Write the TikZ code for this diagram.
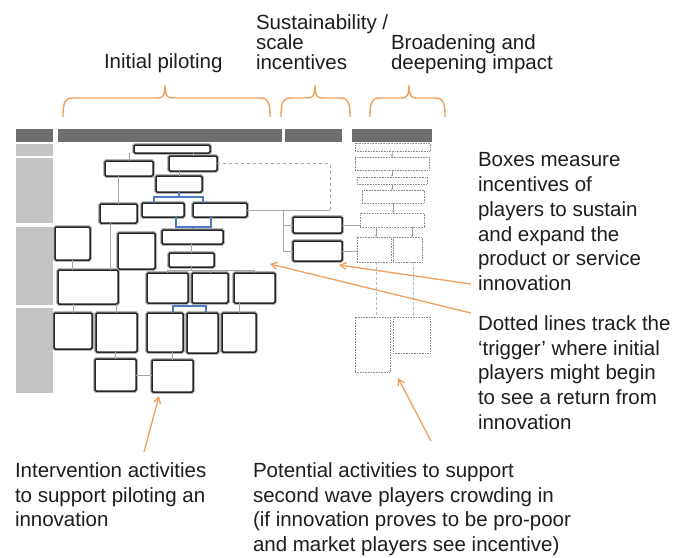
\documentclass[tikz,border=0pt]{standalone}
\usepackage{fontspec}
\setmainfont{Liberation Sans}
\usetikzlibrary{arrows.meta,calc}
\definecolor{orng}{HTML}{EF9F5E}
\definecolor{hdr}{HTML}{6E6E6E}
\definecolor{rowl}{HTML}{C4C4C4}
\definecolor{blu}{HTML}{5079C8}
\definecolor{txt}{HTML}{1E1E1E}
\definecolor{dln}{HTML}{B4BED2}
\newcommand\mkbox[6]{\pgfmathsetmacro\mkbW{#4-#2}\pgfmathsetmacro\mkbH{#5-#3}%
  \node[#6,minimum width=\mkbW pt,minimum height=\mkbH pt] (#1) at ({(#2+#4)/2},{(#3+#5)/2}) {};}
\newcommand\obrace[3]{%
  \draw[brc] (#1,117) .. controls (#1,102) and (#1+2,98) .. (#1+10,98) -- (#2-7,98)
    .. controls (#2-2,98) and (#2,95) .. (#2,85) .. controls (#2,95) and (#2+2,98) .. (#2+7,98)
    -- (#3-10,98) .. controls (#3-2,98) and (#3,102) .. (#3,117);}
\begin{document}
\begin{tikzpicture}[x=1pt,y=-1pt,
  bx/.style={draw=black!85,line width=1.5pt,rounded corners=1.2pt,fill=white,
     preaction={draw=black!28,line width=3.6pt},inner sep=0pt,outer sep=0pt},
  dbx/.style={draw=black!45,densely dotted,line width=0.6pt,fill=white,inner sep=0pt,outer sep=0pt},
  hbar/.style={fill=hdr,draw=none,inner sep=0pt,outer sep=0pt},
  rbar/.style={fill=rowl,draw=none,inner sep=0pt,outer sep=0pt},
  cn/.style={draw=black!35,line width=0.6pt},
  cnd/.style={draw=black!35,line width=0.6pt,dashed},
  dv/.style={draw=dln,line width=0.7pt,densely dashed},
  bl/.style={draw=blu,line width=1.1pt},
  sarr/.style={draw=black!40,line width=0.5pt,-{Straight Barb[length=2pt,width=2.5pt]}},
  brc/.style={draw=orng,line width=1.4pt},
  oa/.style={draw=orng,line width=1.3pt,-{Straight Barb[length=6pt,width=7pt]}},
  lbl/.style={anchor=north west,inner sep=0pt,outer sep=0pt,align=left,text=txt,
     font=\fontsize{20.5}{24.8}\selectfont},
  toplbl/.style={lbl,font=\fontsize{20.5}{20}\selectfont}]
\useasboundingbox[fill=white] (0,0) rectangle (680,557);

% top labels
\node[toplbl] (tinit) at (104,54) {Initial piloting};
\node[toplbl] (tsust) at (256,14.5) {Sustainability /\\scale\\incentives};
\node[toplbl] (tbroad) at (391,34.5) {Broadening and\\deepening impact};

% braces
\obrace{63}{165}{270}
\obrace{281}{315}{350}
\obrace{370}{409}{445}

% header bars
\mkbox{h0}{16}{129}{53}{142}{hbar}
\mkbox{h1}{58}{129}{282}{142}{hbar}
\mkbox{h2}{285}{129}{342}{142}{hbar}
\mkbox{h3}{352}{129}{432}{142}{hbar}
% row labels
\mkbox{r1}{16}{144}{53}{156}{rbar}
\mkbox{r2}{16}{158}{53}{223}{rbar}
\mkbox{r3}{16}{227}{53}{305}{rbar}
\mkbox{r4}{16}{308}{53}{393}{rbar}

% trigger / sustainability connectors (behind boxes)
\coordinate (t1) at (330,163.5);
\coordinate (t2) at (330,210);
\coordinate (j4) at (283,210);

% main boxes
\mkbox{b1}{134}{145}{210}{153}{bx}
\mkbox{b2}{105}{161}{153}{176}{bx}
\mkbox{b3}{169}{156}{217}{171}{bx}
\mkbox{b4}{156}{176}{202}{192}{bx}
\mkbox{b5}{142}{203}{184}{217}{bx}
\mkbox{b6}{193}{203}{247}{217}{bx}
\mkbox{b7}{100}{204}{137}{223}{bx}
\mkbox{b8}{162}{230}{223}{244}{bx}
\mkbox{b9}{55}{227}{90}{260}{bx}
\mkbox{b10}{118}{233}{155}{269}{bx}
\mkbox{b11}{169}{253}{214}{267}{bx}
\mkbox{b12}{58}{270}{118}{304}{bx}
\mkbox{b13}{147}{273}{188}{303}{bx}
\mkbox{b14}{192}{273}{228}{303}{bx}
\mkbox{b15}{234}{273}{275}{303}{bx}
\mkbox{b16}{54}{313}{92}{349}{bx}
\mkbox{b17}{96}{313}{137}{352}{bx}
\mkbox{b18}{147}{313}{183}{352}{bx}
\mkbox{b19}{187}{313}{218}{353}{bx}
\mkbox{b20}{222}{313}{256}{352}{bx}
\mkbox{b21}{95}{359}{136}{391}{bx}
\mkbox{b22}{152}{360}{193}{392}{bx}
% sustainability boxes
\mkbox{s1}{293}{217}{342}{233}{bx}
\mkbox{s2}{293}{241}{342}{261}{bx}
% broadening boxes
\mkbox{d1}{355}{143}{430}{151}{dbx}
\mkbox{d2}{355}{157}{429}{170}{dbx}
\mkbox{d3}{357}{177}{427}{184}{dbx}
\mkbox{d4}{362}{190}{424}{203}{dbx}
\mkbox{d5}{360}{213}{424}{227}{dbx}
\mkbox{d6}{357}{237}{391}{262}{dbx}
\mkbox{d7}{393}{237}{422}{262}{dbx}
\mkbox{d8}{355}{317}{390}{372}{dbx}
\mkbox{d9}{393}{317}{430}{353}{dbx}

% main connectors
\draw[cn] (b2.north) -- (b2.north |- b1.south);
\draw[cn] (b3.north) -- (b3.north |- b1.south);
\draw[cn] (b4.north) -- (b4.north |- b3.south);
\draw[cn] (b7.north) -- (b7.north |- b2.south);
\draw[bl] (b4.south) -- ++(0,5);
\draw[bl] ([xshift=12pt]b5.north west) -- ++(0,-6) -| ([xshift=10pt]b6.north west);
\draw[bl] ([xshift=-8pt]b5.south east) -- ++(0,10) -| ([xshift=-36pt]b6.south east);
\draw[bl] (b8.north) -- ++(0,-3);
\draw[cn] (b11.north) -- (b11.north |- b8.south);
\draw[cn] (b11.south) -- ++(0,3);
\draw[cn] (b13.north) -- ++(0,-3) -| (b15.north);
\draw[cn] (b14.north) -- ++(0,-3);
\draw[bl] ([xshift=-10pt]b18.north east) -- ++(0,-7) -| ([xshift=19pt]b19.north west);
\draw[cn] (b20.north) -- (b20.north |- b15.south);
\draw[cn] (b9.south) -- (b9.south |- b12.north);
\draw[cn] ([xshift=-8.5pt]b7.south) -- ([xshift=-8.5pt]b7.south |- b12.north);
\draw[cn] (b16.north) -- (b16.north |- b12.south);
\draw[cn] (b17.north) -- (b17.north |- b12.south);
\draw[cn] (b21.north) -- (b21.north |- b17.south);
\draw[cn] (b22.north) -- (b22.north |- b18.south);
\draw[cn] (b21.east) -- (b21.east -| b22.west);
% trigger and sustainability connectors
\draw[cnd] (b3.east) -- (t1) -- (t2);
\draw[cn] (b6.east) -- (t2);
\draw[cn] (j4) |- (s1.west);
\draw[cn] (j4) |- (s2.west);
\draw[cn] (s1.east) -- (s1.east -| d5.west);
\draw[cn] (s2.east) -- (s2.east -| d6.west);
% broadening connectors
\draw[sarr] (d1.south) -- (d2.north);
\draw[sarr] (d2.south) -- (d2.south |- d3.north);
\draw[sarr] (d3.south) -- (d3.south |- d4.north);
\draw[sarr] (d4.south) -- (d4.south |- d5.north);
\draw[sarr] ([xshift=-16pt]d5.south) -- ([xshift=-16pt]d5.south |- d6.north);
\draw[sarr] ([xshift=20pt]d5.south) -- ([xshift=20pt]d5.south |- d7.north);
\draw[dv] ([xshift=2pt]d6.south) -- ([xshift=2pt]d6.south |- d8.north);
\draw[dv] ([xshift=5.5pt]d7.south) -- ([xshift=5.5pt]d7.south |- d9.north);

% annotation texts
\node[lbl] (tbox) at (478,152.5) {Boxes measure\\incentives of\\players to sustain\\and expand the\\product or service\\innovation};
\node[lbl] (tdot) at (478,315.5) {Dotted lines track the\\‘trigger’ where initial\\players might begin\\to see a return from\\innovation};
\node[lbl] (tint) at (15,462.5) {Intervention activities\\to support piloting an\\innovation};
\node[lbl] (tpot) at (253,462.5) {Potential activities to support\\second wave players crowding in\\(if innovation proves to be pro-poor\\and market players see incentive)};

% orange pointers
\coordinate (a1) at (471,284);
\coordinate (a2) at (471,313);
\coordinate (a3) at (144,452);
\coordinate (a4) at (431,441);
\draw[oa] (a1) -- ([shift={(-3,4)}]s2.south east);
\draw[oa] (a2) -- ([shift={(-5,-9)}]b15.north east);
\draw[oa] (a3) -- ([shift={(7,4)}]b22.south west);
\draw[oa] (a4) -- ([shift={(8,6)}]d8.south east);
\end{tikzpicture}
\end{document}
